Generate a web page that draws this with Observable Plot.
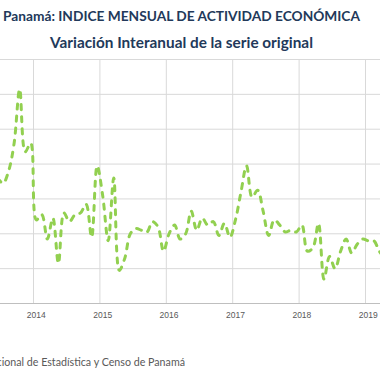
<!DOCTYPE html>
<html>
<head>
<meta charset="utf-8">
<script src="https://cdn.jsdelivr.net/npm/d3@7"></script>
<script src="https://cdn.jsdelivr.net/npm/@observablehq/plot@0.6"></script>
<style>
  html, body { margin: 0; padding: 0; background: #fff; }
  body { position: relative; width: 380px; height: 380px; overflow: hidden; font-family: Lato, "Open Sans", sans-serif; }
  .t { position: absolute; left: 0; width: 363px; text-align: center; white-space: nowrap; font-weight: bold; color: #22395a; line-height: 20px; }
  #t1 { top: 6px; font-size: 15px; }
  #t2 { top: 32px; font-size: 14px; }
  #chart { position: absolute; left: 0; top: 52px; }
  #cap { position: absolute; top: 355px; right: 195px; white-space: nowrap; font-size: 10.7px; color: #595959; line-height: 14px; }
</style>
</head>
<body>
<div class="t" id="t1"><span>Panamá: INDICE MENSUAL DE ACTIVIDAD ECONÓMICA</span></div>
<div class="t" id="t2"><span>Variación Interanual de la serie original</span></div>
<div id="chart"></div>
<div id="cap">Fuente: Instituto Nacional de Estadística y Censo de Panamá</div>
<script>
// Monthly year-on-year variation (%)
const v2013 = [7.2, 6.9, 7.6, 9.2, 12.3, 8.7, 9.2];            // Jun–Dec 2013
const v2014 = [4.8, 5.1, 3.7, 4.9, 2.3, 5.2, 4.7, 5.1, 5.2, 5.7, 3.8, 7.9];
const v2015 = [6.2, 3.6, 7.2, 1.9, 2.6, 4.0, 4.3, 4.2, 4.1, 4.7, 4.4, 3.0];
const v2016 = [4.0, 4.5, 3.7, 4.0, 5.3, 4.2, 4.9, 4.5, 4.7, 3.9, 4.6, 3.8];
const v2017 = [4.8, 6.4, 7.9, 6.1, 6.5, 5.3, 3.9, 4.8, 4.5, 4.1, 4.2, 4.1];
const v2018 = [4.5, 3.0, 3.2, 4.6, 1.4, 2.7, 2.0, 3.0, 3.7, 2.9, 3.4, 3.7];
const v2019 = [3.6, 3.6, 3.0, 2.6];                             // Jan–Apr 2019
const years = [2014, 2015, 2016, 2017, 2018, 2019];
const yTicks = [0, 2, 4, 6, 8, 10, 12, 14];

const series = [
  {year: 2013, first: 6, vals: v2013},
  {year: 2014, first: 1, vals: v2014},
  {year: 2015, first: 1, vals: v2015},
  {year: 2016, first: 1, vals: v2016},
  {year: 2017, first: 1, vals: v2017},
  {year: 2018, first: 1, vals: v2018},
  {year: 2019, first: 1, vals: v2019}
];
const data = [];
for (const s of series) s.vals.forEach((v, i) => data.push({t: s.year + (s.first + i - 0.5) / 12, v}));

const chart = Plot.plot({
  width: 380,
  height: 271,
  marginLeft: 0,
  marginRight: 0,
  marginTop: 7,
  marginBottom: 20,
  style: {fontFamily: "'Liberation Sans', Arial, sans-serif", fontSize: "8.5px", color: "#595959", background: "#fff", overflow: "hidden"},
  x: {type: "linear", domain: [2013.503, 2019.226], label: null},
  y: {domain: [0, 14], label: null},
  marks: [
    Plot.ruleY(yTicks.slice(1), {stroke: "#d9d9d9", strokeWidth: 1}),
    Plot.ruleX(years, {stroke: "#d9d9d9", strokeWidth: 1}),
    Plot.ruleY([0], {stroke: "#bfbfbf", strokeWidth: 1}),
    Plot.lineY(data, {x: "t", y: "v", curve: "catmull-rom", stroke: "#92d050", strokeWidth: 3,
      strokeDasharray: "5,7", strokeLinecap: "round", clip: true}),
    // y tick labels sit left of the cropped view, as in the original chart
    Plot.axisY(yTicks, {tickSize: 0, tickPadding: 6, label: null, fill: "#595959"}),
    Plot.axisX(years.map(y => y + 0.5 / 12), {tickSize: 0, tickPadding: 8, label: null, tickFormat: d => String(Math.floor(d)), fill: "#595959"}),
  ]
});
document.getElementById("chart").appendChild(chart);

function fit(id, target) {
  const span = document.querySelector("#" + id + " span");
  const el = document.getElementById(id);
  const fs = parseFloat(getComputedStyle(el).fontSize);
  const w = span.getBoundingClientRect().width;
  el.style.fontSize = (fs * target / w) + "px";
}
fit("t1", 357);
fit("t2", 263);
</script>
</body>
</html>
